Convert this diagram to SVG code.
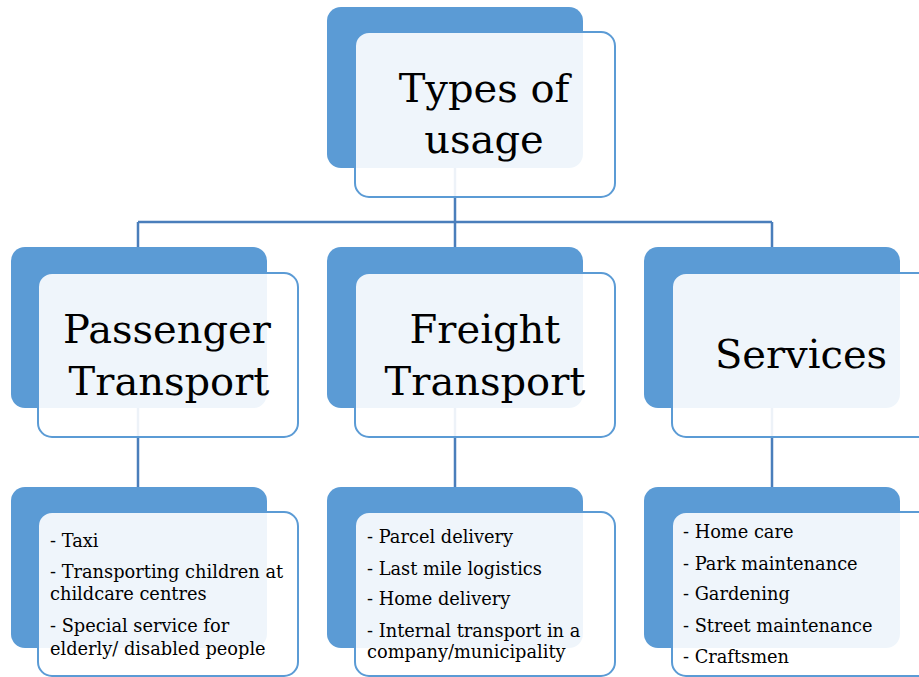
<svg xmlns="http://www.w3.org/2000/svg" width="919" height="677" viewBox="0 0 919 677">
<style>
.back{fill:#5B9BD5;}
.front{fill:#FFFFFF;fill-opacity:0.9;stroke:#5B9BD5;stroke-width:2;}
.conn{stroke:#4A7EBB;stroke-width:2.5;fill:none;}
.big{font-family:"DejaVu Serif","Liberation Serif",serif;font-size:40px;fill:#000;text-anchor:middle;}
.small{font-family:"DejaVu Serif","Liberation Serif",serif;font-size:17.8px;fill:#000;}
</style>
<rect width="919" height="677" fill="#FFFFFF"/>
<g id="connectors">
<path class="conn" d="M455 168 V222 M138 222 H772 M138 222 V248 M455 222 V248 M772 222 V248"/>
<path class="conn" d="M138 408 V488 M455 408 V488 M772 408 V488"/>
</g>
<g id="types-of-usage">
<rect class="back" x="327" y="7" width="256" height="161" rx="14"/>
<rect class="front" x="355" y="32" width="260" height="165" rx="14"/>
<text class="big" x="484" y="102">Types of</text>
<text class="big" x="484" y="153">usage</text>
</g>
<g id="passenger-transport">
<rect class="back" x="11" y="247" width="256" height="161" rx="14"/>
<rect class="front" x="38" y="273" width="260" height="164" rx="14"/>
<text class="big" x="167" y="343">Passenger</text>
<text class="big" x="169" y="395">Transport</text>
</g>
<g id="freight-transport">
<rect class="back" x="327" y="247" width="256" height="161" rx="14"/>
<rect class="front" x="355" y="273" width="260" height="164" rx="14"/>
<text class="big" x="485" y="343">Freight</text>
<text class="big" x="485" y="395">Transport</text>
</g>
<g id="services">
<rect class="back" x="644" y="247" width="256" height="161" rx="14"/>
<rect class="front" x="672" y="273" width="260" height="164" rx="14"/>
<text class="big" x="801" y="368">Services</text>
</g>
<g id="passenger-list">
<rect class="back" x="11" y="487" width="256" height="161" rx="14"/>
<rect class="front" x="38" y="512" width="260" height="164" rx="14"/>
<text class="small" x="50" y="547">- Taxi</text>
<text class="small" x="50" y="578">- Transporting children at</text>
<text class="small" x="50" y="600">childcare centres</text>
<text class="small" x="50" y="632">- Special service for</text>
<text class="small" x="50" y="655">elderly/ disabled people</text>
</g>
<g id="freight-list">
<rect class="back" x="327" y="487" width="256" height="161" rx="14"/>
<rect class="front" x="355" y="512" width="260" height="164" rx="14"/>
<text class="small" x="367" y="543">- Parcel delivery</text>
<text class="small" x="367" y="575">- Last mile logistics</text>
<text class="small" x="367" y="605">- Home delivery</text>
<text class="small" x="367" y="637">- Internal transport in a</text>
<text class="small" x="367" y="658">company/municipality</text>
</g>
<g id="services-list">
<rect class="back" x="644" y="487" width="256" height="161" rx="14"/>
<rect class="front" x="672" y="512" width="260" height="164" rx="14"/>
<text class="small" x="683" y="538">- Home care</text>
<text class="small" x="683" y="570">- Park maintenance</text>
<text class="small" x="683" y="600">- Gardening</text>
<text class="small" x="683" y="632">- Street maintenance</text>
<text class="small" x="683" y="663">- Craftsmen</text>
</g>
</svg>
